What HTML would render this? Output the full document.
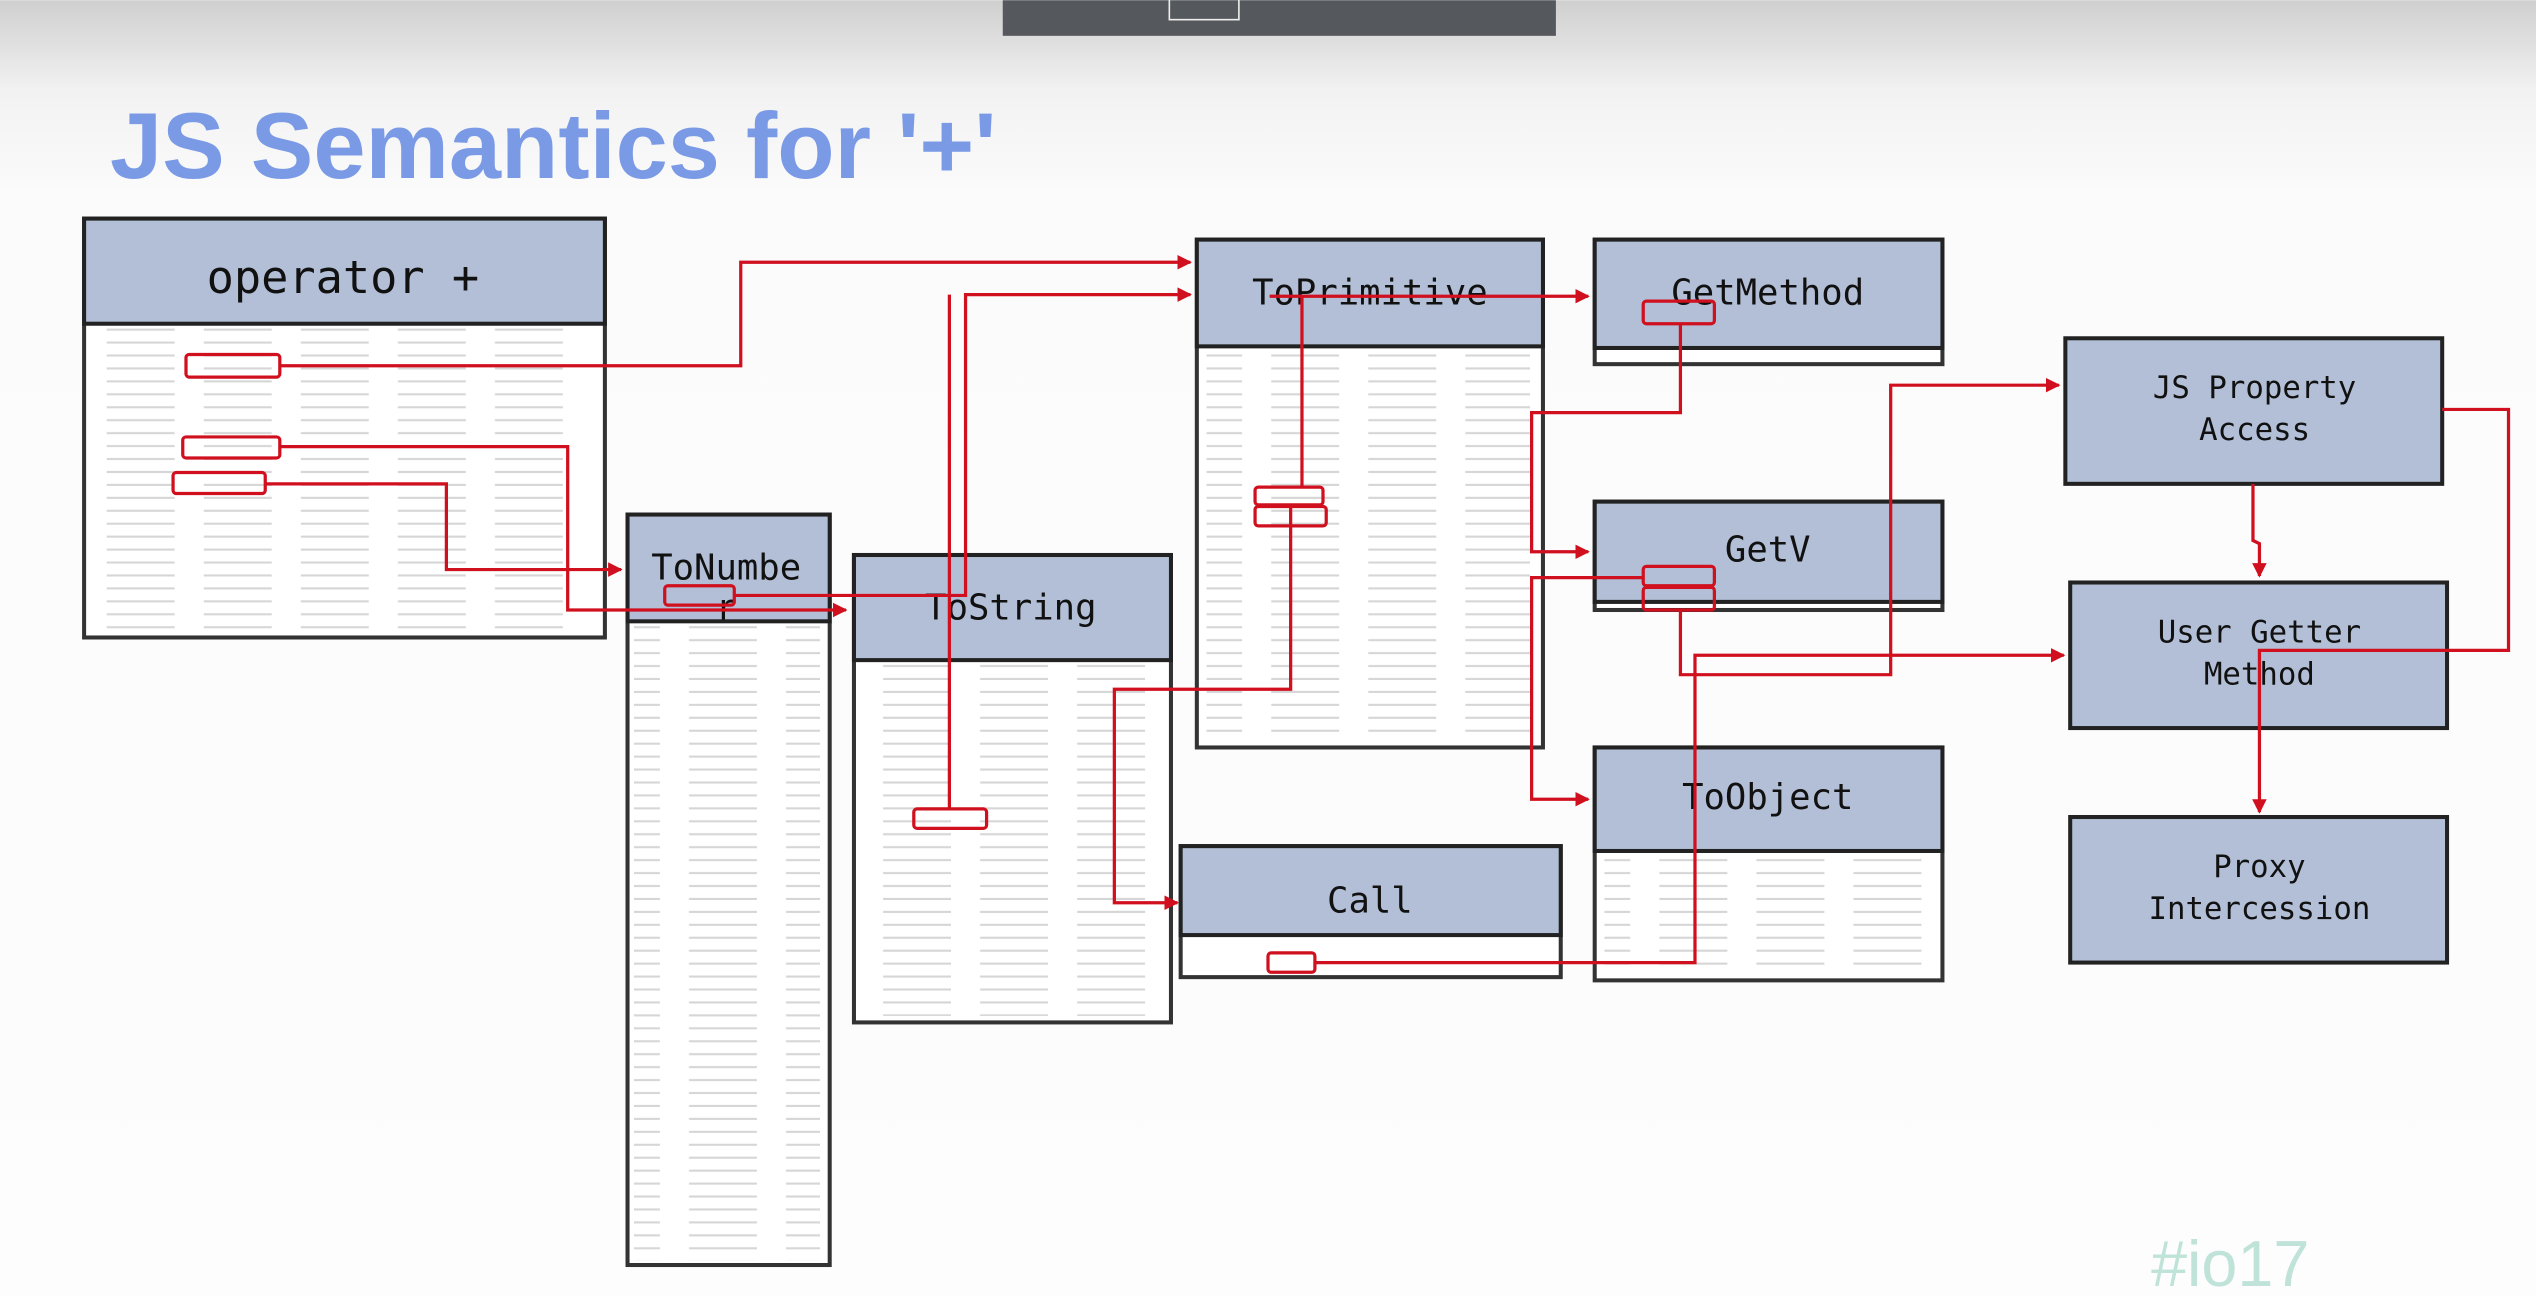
<!DOCTYPE html>
<html><head><meta charset="utf-8"><style>
html,body{margin:0;padding:0;width:2536px;height:1296px;overflow:hidden;background:#fff}
svg{display:block}
.mono{font-family:"DejaVu Sans Mono","Liberation Mono",monospace;fill:#111}
</style></head><body>
<svg width="2536" height="1296" viewBox="0 0 1568 801" xmlns="http://www.w3.org/2000/svg">
<defs>
<linearGradient id="bg" x1="0" y1="0" x2="0" y2="1">
<stop offset="0" stop-color="#cfcfcf"/><stop offset="0.07" stop-color="#f2f2f2"/><stop offset="0.15" stop-color="#fbfbfb"/><stop offset="1" stop-color="#fdfdfd"/>
</linearGradient>
<pattern id="txt" width="60" height="8" patternUnits="userSpaceOnUse">
<rect x="6" y="3" width="42" height="1.3" fill="#d6d6d6"/>
</pattern>
<marker id="ar" markerWidth="9" markerHeight="9" refX="8" refY="4.5" orient="auto" markerUnits="userSpaceOnUse">
<path d="M0,0 L9,4.5 L0,9 z" fill="#d0101e"/>
</marker>
</defs>
<rect width="1568" height="801" fill="url(#bg)"/>
<rect x="620" y="0" width="342" height="22" fill="#55585c"/>
<rect x="723" y="-2" width="43" height="14" fill="none" stroke="#eee" stroke-width="1"/>
<text x="68" y="110" font-family="Liberation Sans,sans-serif" font-weight="bold" font-size="58" fill="#7b9ae6">JS Semantics for '+'</text>

<g stroke="#333" stroke-width="2.5">
<rect x="52" y="135" width="322" height="259" fill="#fff"/>
<rect x="388" y="318" width="125" height="464" fill="#fff"/>
<rect x="528" y="343" width="196" height="289" fill="#fff"/>
<rect x="740" y="148" width="214" height="314" fill="#fff"/>
<rect x="986" y="148" width="215" height="77" fill="#fff"/>
<rect x="986" y="310" width="215" height="67" fill="#fff"/>
<rect x="986" y="462" width="215" height="144" fill="#fff"/>
<rect x="730" y="523" width="235" height="81" fill="#fff"/>
</g>
<g fill="url(#txt)">
<rect x="60" y="200" width="300" height="190"/>
<rect x="392" y="384" width="115" height="395"/>
<rect x="534" y="408" width="185" height="220"/>
<rect x="746" y="214" width="200" height="244"/>
<rect x="992" y="526" width="200" height="76"/>
</g>
<g fill="#b2bfd6" stroke="#222" stroke-width="2.5">
<rect x="52" y="135" width="322" height="65"/>
<rect x="388" y="318" width="125" height="66"/>
<rect x="528" y="343" width="196" height="65"/>
<rect x="740" y="148" width="214" height="66"/>
<rect x="986" y="148" width="215" height="67"/>
<rect x="986" y="310" width="215" height="62"/>
<rect x="986" y="462" width="215" height="64"/>
<rect x="730" y="523" width="235" height="55"/>
<rect x="1277" y="209" width="233" height="90"/>
<rect x="1280" y="360" width="233" height="90"/>
<rect x="1280" y="505" width="233" height="90"/>
</g>

<g class="mono" text-anchor="middle">
<text x="212" y="181" font-size="28">operator +</text>
<text x="449" y="358" font-size="22">ToNumbe</text>
<text x="449" y="383" font-size="22">r</text>
<text x="625" y="383" font-size="22">ToString</text>
<text x="847" y="188" font-size="22">ToPrimitive</text>
<text x="1093" y="188" font-size="22">GetMethod</text>
<text x="1093" y="347" font-size="22">GetV</text>
<text x="1093" y="500" font-size="22">ToObject</text>
<text x="847" y="564" font-size="22">Call</text>
<text x="1394" y="246" font-size="19">JS Property</text>
<text x="1394" y="272" font-size="19">Access</text>
<text x="1397" y="397" font-size="19">User Getter</text>
<text x="1397" y="423" font-size="19">Method</text>
<text x="1397" y="542" font-size="19">Proxy</text>
<text x="1397" y="568" font-size="19">Intercession</text>
</g>

<g fill="none" stroke="#d0101e" stroke-width="2">
<rect x="115" y="219" width="58" height="14" rx="2"/>
<rect x="113" y="270" width="60" height="13" rx="2"/>
<rect x="107" y="292" width="57" height="13" rx="2"/>
<rect x="411" y="362" width="43" height="12" rx="2"/>
<rect x="565" y="500" width="45" height="12" rx="2"/>
<rect x="776" y="301" width="42" height="11" rx="2"/>
<rect x="776" y="313" width="44" height="12" rx="2"/>
<rect x="1016" y="186" width="44" height="14" rx="2"/>
<rect x="1016" y="350" width="44" height="12" rx="2"/>
<rect x="1016" y="363" width="44" height="14" rx="2"/>
<rect x="784" y="589" width="29" height="12" rx="2"/>
<polyline points="173,226 458,226 458,162 736,162" marker-end="url(#ar)"/>
<polyline points="173,276 351,276 351,377 523,377" marker-end="url(#ar)"/>
<polyline points="164,299 276,299 276,352 384,352" marker-end="url(#ar)"/>
<polyline points="454,368 597,368 597,182 736,182" marker-end="url(#ar)"/>
<polyline points="587,182 587,500"/>
<polyline points="785,183 982,183" marker-end="url(#ar)"/>
<polyline points="805,183 805,301"/>
<polyline points="798,313 798,426 689,426 689,558 728,558" marker-end="url(#ar)"/>
<polyline points="1039,200 1039,255 947,255 947,341 982,341" marker-end="url(#ar)"/>
<polyline points="1016,357 947,357 947,494 982,494" marker-end="url(#ar)"/>
<polyline points="1039,377 1039,417 1169,417 1169,238 1273,238" marker-end="url(#ar)"/>
<polyline points="813,595 1048,595 1048,405 1276,405" marker-end="url(#ar)"/>
<polyline points="1393,299 1393,334 1397,336 1397,356" marker-end="url(#ar)"/>
<polyline points="1510,253 1551,253 1551,402 1397,402 1397,502" marker-end="url(#ar)"/>
</g>

<text x="1330" y="795" font-family="Liberation Sans,sans-serif" font-size="40" fill="#bfe3d8">#io17</text>
</svg>
</body></html>
